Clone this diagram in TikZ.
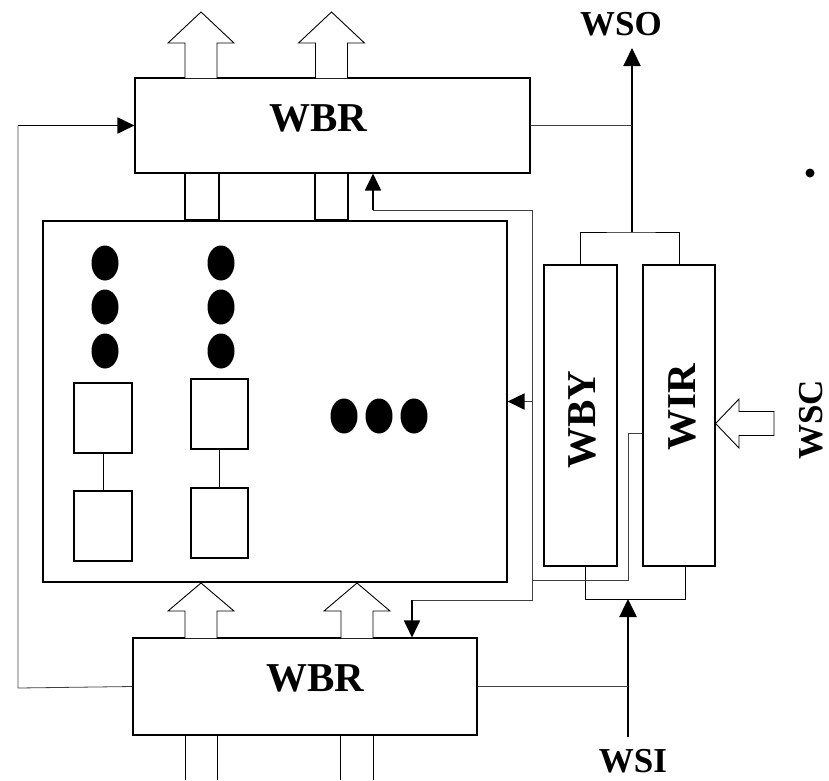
\documentclass[tikz,border=0pt]{standalone}
\usepackage{fontspec}
\setmainfont{Liberation Serif}
\usetikzlibrary{arrows.meta,positioning}
\colorlet{wirecol}{black!75}

\begin{document}
\begin{tikzpicture}[x=1pt, y=-1pt,
    blk/.style={draw, line width=1.1pt, inner sep=0pt},
    wire/.style={wirecol, line width=0.8pt},
    arr/.style={line width=1.8pt, -{Triangle[length=17pt,width=16pt]}},
    bigarr/.style={line width=2.6pt, -{Triangle[length=18pt,width=17pt]}},
    hollow/.style={draw, line width=0.9pt, fill=white},
    bigtxt/.style={font=\bfseries\fontsize{41}{41}\selectfont, inner sep=0pt},
    sigtxt/.style={font=\bfseries\fontsize{35}{35}\selectfont, inner sep=0pt}]
  \useasboundingbox (0,0) rectangle (829,780);
  % boundary register cells
  \node[blk, minimum width=395pt, minimum height=95pt] (wbrtop) at (332.5,125.5) {};
  \node[blk, minimum width=344pt, minimum height=97pt] (wbrbot) at (305,686.5) {};
  \node[bigtxt] at (318,118) {WBR};
  \node[bigtxt] at (315,678) {WBR};
  % core
  \node[blk, minimum width=464pt, minimum height=361pt] (core) at (275,401.5) {};
  \node[blk, minimum width=58pt, minimum height=70pt] (c1a) at (103,418) {};
  \node[blk, minimum width=58pt, minimum height=70pt] (c1b) at (103,526) {};
  \node[blk, minimum width=57pt, minimum height=70pt] (c2a) at (219.5,414) {};
  \node[blk, minimum width=57pt, minimum height=70pt] (c2b) at (219.5,523) {};
  \draw[line width=0.8pt] (c1a) -- (c1b);
  \draw[line width=0.8pt] (c2a) -- (c2b);
  \foreach \x in {105,221}
    \foreach \y in {263,307,351}
      {\fill (\x,\y) ellipse (13.5 and 17.5);}
  \foreach \x in {344,379,414}
    {\fill (\x,416) ellipse (13.5 and 17.5);}
  % bypass and instruction registers
  \node[blk, minimum width=73pt, minimum height=301pt] (wby) at (580.5,415.5) {};
  \node[blk, minimum width=72pt, minimum height=301pt] (wir) at (679,415.5) {};
  \node[bigtxt, rotate=90] at (582,420) {WBY};
  \node[bigtxt, rotate=90] at (682,407) {WIR};
  % signal labels
  \node[sigtxt] (wso) at (621,24) {WSO};
  \node[sigtxt] (wsi) at (633,761) {WSI};
  \node[sigtxt, rotate=90] (wsc) at (811,420) {WSC};
  \fill (810,173) circle (4.5);
  % parallel buses
  \draw[blk] (185,173) rectangle (219,220);
  \draw[blk] (315,173) rectangle (348,220);
  \draw[line width=0.9pt] (185,735) -- (185,780) (217,735) -- (217,780)
                          (340,735) -- (340,780) (373,735) -- (373,780);
  \foreach \x/\t/\h/\b in {201/12/43/78, 331.5/12/43/78, 201/583/611/638, 357/583/611/638}
    {\draw[hollow] (\x-16,\b) -- (\x-16,\h) -- (\x-33,\h) -- (\x,\t) -- (\x+33,\h)
       -- (\x+16,\h) -- (\x+16,\b);}
  \draw[hollow] (wir.east |- 0,423.5) -- (739,399) -- (739,411.5) -- (774,411.5)
     -- (774,435.5) -- (739,435.5) -- (739,448) -- cycle;
  % serial path
  \coordinate (wsohub) at (632,232);
  \coordinate (wsihub) at (628,599);
  \draw[line width=0.9pt] (wby.north) |- (wsohub) -| (wir.north);
  \draw[line width=0.9pt] ([xshift=5pt]wby.south) |- (wsihub) -| ([xshift=6pt]wir.south);
  \draw[bigarr] (wsohub) -- ([yshift=-12pt]wso.south -| wsohub);
  \draw[bigarr] ([yshift=12pt]wsi.north -| wsihub) -- (wsihub);
  \draw[wire] (wbrtop.east) -- (wbrtop.east -| wsohub);
  \draw[wire] (wbrbot.east) -- (wbrbot.east -| wsihub);
  \coordinate (fbk) at (18,125.5);
  \draw[wire] (wbrbot.west) -- (18,688) -- (fbk);
  \draw[arr] (fbk) -- (wbrtop.west);
  % control lines
  \coordinate (tap) at (532,580);
  \coordinate (uptap) at (373,210);
  \coordinate (dntap) at (412,600);
  \draw[wire] ([yshift=-17.5pt]wir.west) -| (628,580) -- (tap);
  \draw[wire] (tap) -- (532,210) -- (uptap);
  \draw[wire] (tap) -- (532,600) -- (dntap);
  \draw[arr] (uptap) -- (uptap |- wbrtop.south);
  \draw[arr] (dntap) -- (dntap |- wbrbot.north);
  \draw[wire] (532,401.5) -- (522,401.5);
  \draw[arr] (522,401.5) -- (core.east);
\end{tikzpicture}
\end{document}
